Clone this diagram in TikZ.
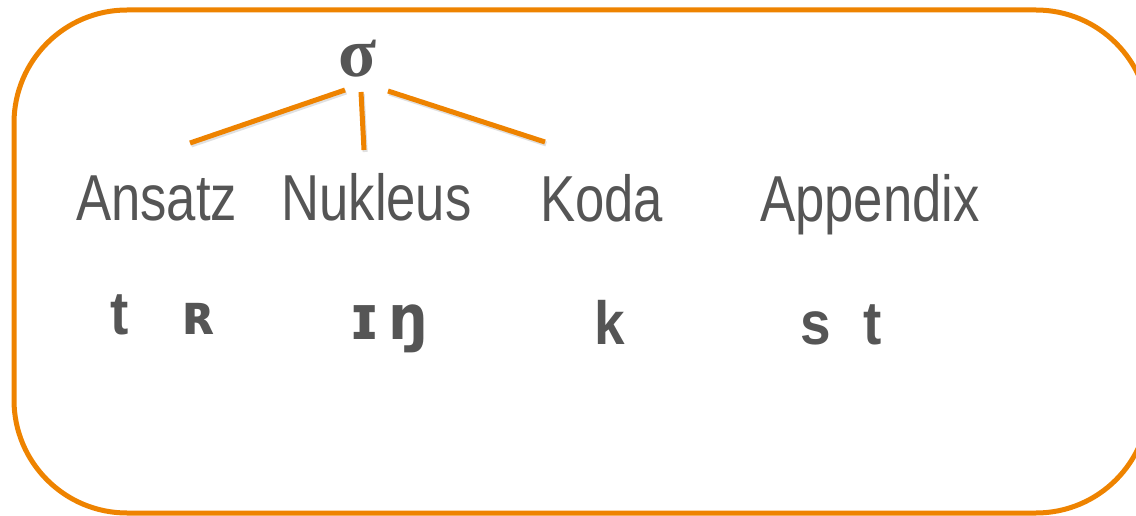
\documentclass[tikz,border=0pt]{standalone}
\usepackage{fontspec}
\newfontfamily\labfont[FakeStretch=0.81]{Liberation Sans}
\newfontfamily\phonfont[FakeStretch=0.9]{Liberation Sans}
\newfontfamily\ipafont[FakeStretch=0.9]{DejaVu Sans}
\newfontfamily\sigfont{Liberation Serif}
\definecolor{frameorange}{RGB}{238,131,0}
\definecolor{txtgray}{RGB}{85,85,85}
\tikzset{
  lbl/.style={inner sep=0pt, anchor=base, text=txtgray, font=\labfont\fontsize{65}{70}\selectfont},
  phon/.style={inner sep=0pt, anchor=base, text=txtgray, font=\phonfont\bfseries\fontsize{61}{66}\selectfont},
  ipa/.style={inner sep=0pt, anchor=base, text=txtgray, font=\ipafont\bfseries\fontsize{#1}{#1}\selectfont},
  branch/.style={draw=frameorange, line width=5pt},
  branchshadow/.style={draw=black, opacity=0.12, line width=5pt},
  frame/.style={draw=frameorange, line width=5pt, rounded corners=113pt}
}
\begin{document}
\begin{tikzpicture}[x=1pt,y=-1pt]
\useasboundingbox (0,0) rectangle (1136,516);
\clip (0,0) rectangle (1136,516);
\draw[frame] (14,10) rectangle (1149,513);

\node[inner sep=0pt, anchor=base, text=txtgray, font=\sigfont\bfseries\fontsize{70}{70}\selectfont] (sigma) at (357.5,77) {σ};

\node[lbl] (ansatz) at (156.5,220) {Ansatz};
\node[lbl] (nukleus) at (376.5,220) {Nukleus};
\node[lbl] (koda) at (601.5,222) {Koda};
\node[lbl] (appendix) at (870,222) {Appendix};

\coordinate (sA) at (345,90);
\coordinate (eA) at (190,143);
\coordinate (sN) at (361,92);
\coordinate (eN) at (364,150);
\coordinate (sK) at (388,91);
\coordinate (eK) at (545,142);

\foreach \a/\b in {sA/eA,sN/eN,sK/eK}{
  \draw[branchshadow] ([shift={(1.2,2)}]\a) -- ([shift={(1.2,2)}]\b);
}
\draw[branch] (sA) -- (eA);
\draw[branch] (sN) -- (eN);
\draw[branch] (sK) -- (eK);

\node[phon] (t1) at (119.5,334) {t};
\node[ipa=57] (R) at (200,334) {ʀ};
\node[ipa=62] (I) at (364.5,339) {ɪ};
\node[ipa=62] (ng) at (408,339) {ŋ};
\node[phon] (k) at (609.5,344) {k};
\node[phon] (s) at (815.5,344) {s};
\node[phon] (t2) at (872.5,344) {t};
\end{tikzpicture}
\end{document}
